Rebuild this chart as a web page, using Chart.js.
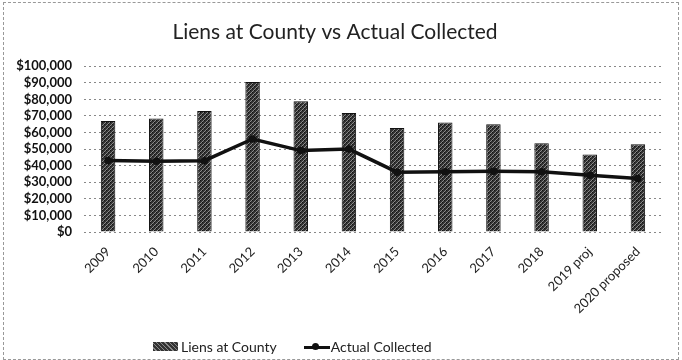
<!DOCTYPE html>
<html>
<head>
<meta charset="utf-8">
<script src="https://cdn.jsdelivr.net/npm/chart.js@4.4.1/dist/chart.umd.min.js"></script>
<style>
  html, body { margin: 0; padding: 0; background: #fff; }
  #wrap { position: relative; width: 682px; height: 360px; }
  #wrap:after { content: ""; position: absolute; inset: 2px 3px 0 3px; border: 1px dashed #999; pointer-events: none; }
  #legend { position: absolute; left: 153px; top: 338px; font: 14px Lato, sans-serif; color: #222; display: flex; align-items: center; }
  #legend .sw { display: inline-block; width: 25px; height: 9px; margin-right: 3px; }
  #legend .ln { display: inline-block; position: relative; width: 26px; height: 10px; margin: 0 1px 0 27px; }
  #legend .ln:before { content: ""; position: absolute; left: 0; right: 0; top: 4px; height: 3px; background: #111; }
  #legend .ln:after { content: ""; position: absolute; left: 8px; top: 1px; width: 7px; height: 7px; border-radius: 50%; background: #111; }
</style>
</head>
<body>
<div id="wrap">
  <canvas id="chart" width="682" height="360"></canvas>
  <div id="legend"><span class="sw" id="sw"></span>Liens at County<span class="ln"></span>Actual Collected</div>
</div>
<script>
// jaren / categorieën
const years = ["2009", "2010", "2011", "2012", "2013", "2014", "2015", "2016", "2017", "2018", "2019 proj", "2020 proposed"];
// pandrechten bij county (staven)
const liens = [67000, 68400, 73000, 90500, 78800, 71800, 62800, 66000, 65000, 53500, 46700, 53000];
// daadwerkelijk geïnd (lijn)
const collected = [43100, 42700, 43000, 56100, 49100, 50000, 36100, 36300, 36600, 36300, 34300, 32200];
const yTicks = [0, 10000, 20000, 30000, 40000, 50000, 60000, 70000, 80000, 90000, 100000];

const usd = (v) => "$" + v.toLocaleString("en-US");

// gespikkeld donkergrijs vulpatroon voor de staven
function hatch() {
  const c = document.createElement("canvas");
  c.width = 4; c.height = 4;
  const g = c.getContext("2d");
  g.fillStyle = "#333"; g.fillRect(0, 0, 4, 4);
  g.fillStyle = "#8a8a8a"; g.fillRect(0, 3, 1, 1); g.fillRect(1, 2, 1, 1); g.fillRect(2, 1, 1, 1); g.fillRect(3, 0, 1, 1);
  g.fillStyle = "#111"; g.fillRect(0, 0, 1, 1); g.fillRect(2, 2, 1, 1);
  return c;
}
const pat = document.getElementById("chart").getContext("2d").createPattern(hatch(), "repeat");
document.getElementById("sw").style.background = "repeating-linear-gradient(45deg,#333 0 2px,#8a8a8a 2px 3px)";

new Chart(document.getElementById("chart"), {
  data: {
    labels: years,
    datasets: [
      { type: "line", label: "Actual Collected", data: collected, borderColor: "#111", backgroundColor: "#111", borderWidth: 3.5, pointRadius: 2, tension: 0, order: 0 },
      { type: "bar", label: "Liens at County", data: liens, backgroundColor: pat, borderColor: "#111", borderWidth: 1, barPercentage: 0.3, categoryPercentage: 1, order: 1 },
    ],
  },
  options: {
    responsive: false, animation: false,
    layout: { padding: { left: 8, right: 20, bottom: 46, top: 0 } },
    plugins: {
      legend: { display: false },
      tooltip: { enabled: false },
      title: { display: true, text: "Liens at County vs Actual Collected", color: "#222", font: { family: "Lato", size: 21, weight: "normal" }, padding: { top: 20, bottom: 21 } },
    },
    scales: {
      x: {
        afterFit: (s) => { s.height = 82; },
        grid: { display: false }, border: { display: false },
        ticks: { color: "#222", font: { family: "Lato", size: 13 }, minRotation: 45, maxRotation: 45, padding: 4 },
      },
      y: {
        min: 0, max: 100000,
        afterBuildTicks: (s) => { s.ticks = yTicks.map((v) => ({ value: v })); },
        afterFit: (s) => { s.width = 76; },
        grid: { color: "#888", lineWidth: 1, tickLength: 0 }, border: { display: false, dash: [2, 3] },
        ticks: { autoSkip: false, color: "#111", font: { family: "Lato", size: 13, weight: "bold" }, padding: 12, callback: (v) => usd(v) },
      },
    },
  },
});
</script>
</body>
</html>
